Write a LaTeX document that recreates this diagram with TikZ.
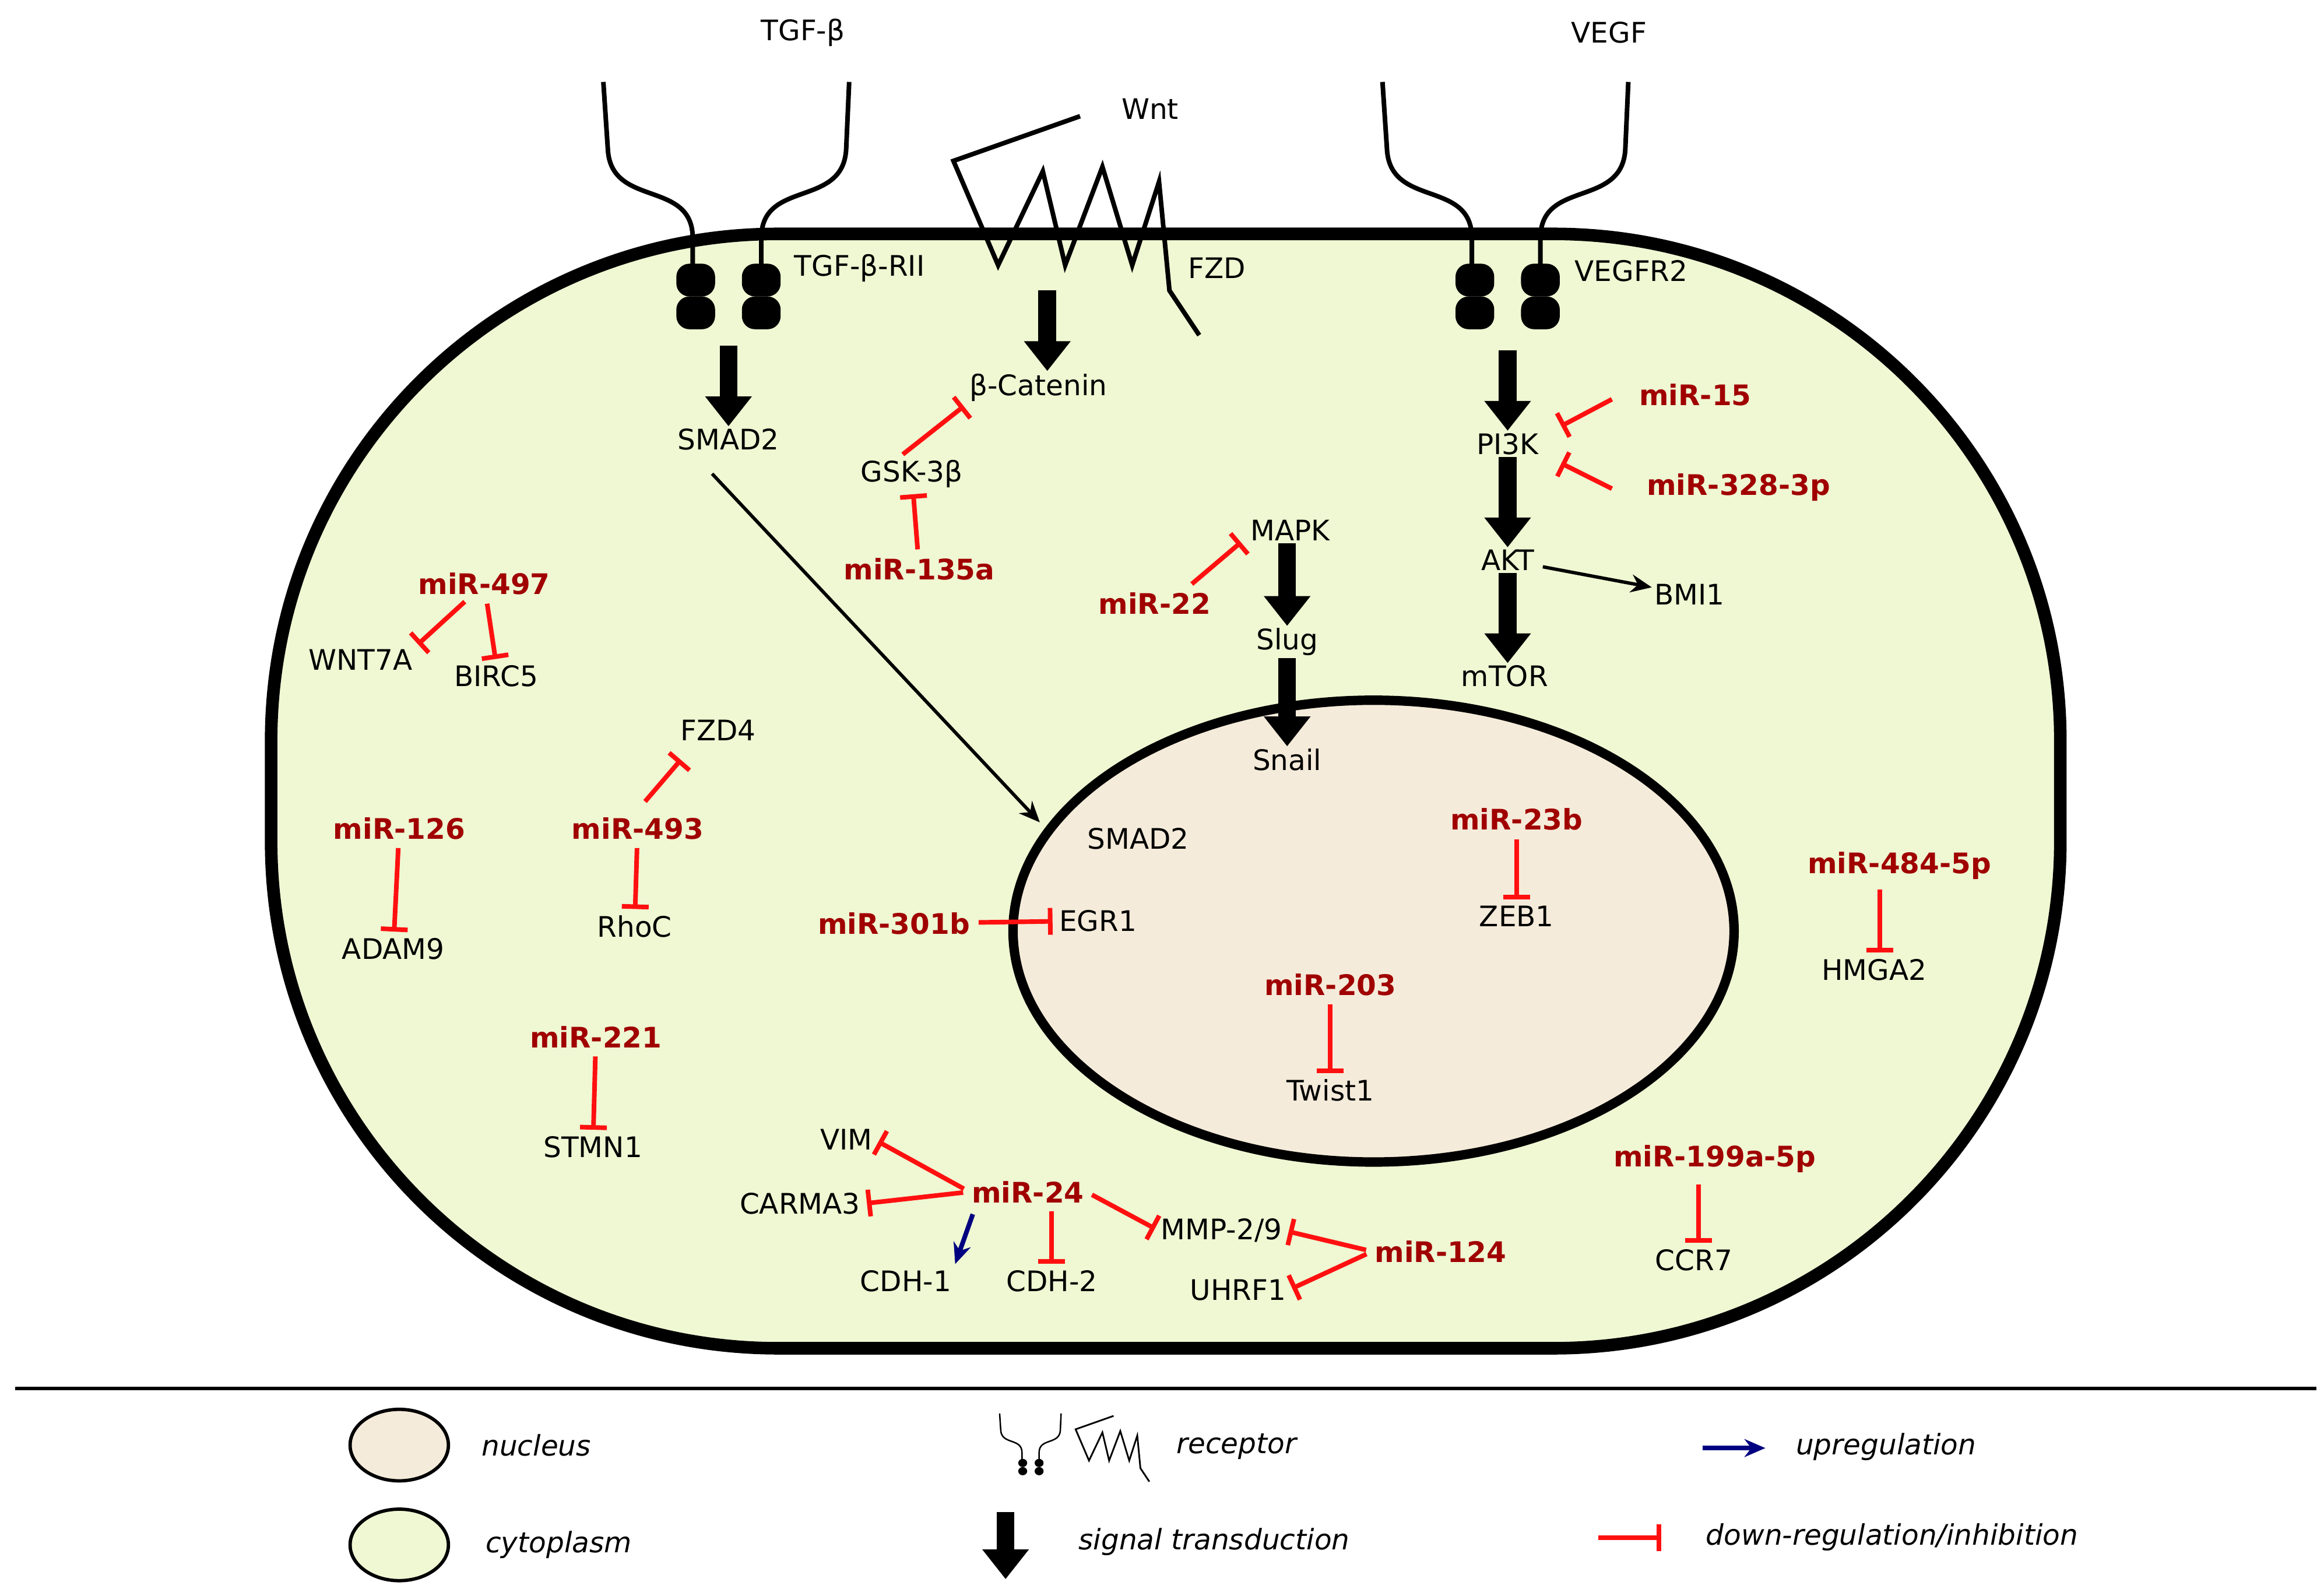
\documentclass[tikz,border=0pt]{standalone}
\usepackage{fontspec}
\setmainfont{DejaVu Sans}
\usetikzlibrary{arrows.meta}
\definecolor{cyto}{HTML}{EFF7D3}
\definecolor{nuc}{HTML}{F5EBDA}
\definecolor{mr}{HTML}{A00000}
\definecolor{inhred}{HTML}{FF1010}
\definecolor{upblue}{HTML}{000080}
\begin{document}
\begin{tikzpicture}[x=0.025cm,y=-0.025cm,
  lab/.style={font=\fontsize{13.5}{16}\selectfont,inner sep=1pt},
  mir/.style={lab,text=mr,font=\fontsize{13.5}{16}\selectfont\bfseries},
  leg/.style={lab,font=\fontsize{13.5}{16}\selectfont\itshape},
  sig/.style={line width=8.5pt,-{Triangle[width=0.75cm,length=0.5cm]}},
  inh/.style={inhred,line width=2.2pt,-{Bar[width=0.45cm]},shorten <=3pt,shorten >=2pt},
  up/.style={upblue,line width=2.2pt,-{Stealth[length=0.35cm,width=0.3cm]},shorten <=3pt,shorten >=2pt},
  thin/.style={line width=1.6pt,-{Stealth[length=0.35cm,width=0.3cm]}},
  tgfrec/.pic={
    \draw[line width=2.2pt] (-84,-133) -- (-81,-88) .. controls (-79,-48) and (-24,-68) .. (-24,-28) -- (-24,-8);
    \draw[line width=2.2pt] (81,-133) -- (79,-88) .. controls (77,-48) and (22,-68) .. (22,-28) -- (22,-8);
    \foreach \x in {-22,22}{\foreach \y in {0,22}{\fill[rounded corners=0.22cm] (\x-13,\y-11) rectangle (\x+13,\y+11);}}
  }]
\useasboundingbox (0,0) rectangle (1560,1071);
% cell
\draw[line width=6pt,fill=cyto,rounded corners=8.5cm] (182,157) rectangle (1383,905);
\draw[line width=4.5pt,fill=nuc] (922,625) ellipse (242 and 155);
% receptors
\pic at (489,188) {tgfrec};
\pic at (1012,188) {tgfrec};
\begin{scope}[shift={(720,150)}]
\draw[line width=2.2pt,line join=miter] (5,-72) -- (-80,-42) -- (-50,28) -- (-20,-35) -- (-5,28) -- (20,-38) -- (40,28) -- (58,-28) -- (65,45) -- (85,75);
\end{scope}
% labels
\node[lab] (tgf) at (539,22) {TGF-β};
\node[lab] (vegf) at (1080,22) {VEGF};
\node[lab] (wnt) at (772,73) {Wnt};
\node[lab] (tgfr) at (577,180) {TGF-β-RII};
\node[lab] (fzd) at (817,180) {FZD};
\node[lab] (vegfr) at (1095,182) {VEGFR2};
\node[lab] (smad) at (489,295) {SMAD2};
\node[lab] (bcat) at (697,260) {β-Catenin};
\node[lab] (gsk) at (612,318) {GSK-3β};
\node[mir] (m135) at (617,382) {miR-135a};
\node[lab] (mapk) at (866,356) {MAPK};
\node[mir] (m22) at (775,405) {miR-22};
\node[lab] (slug) at (864,431) {Slug};
\node[lab] (snail) at (864,510) {Snail};
\node[lab] (pi3k) at (1012,298) {PI3K};
\node[mir] (m15) at (1138,265) {miR-15};
\node[mir] (m328) at (1167,327) {miR-328-3p};
\node[lab] (akt) at (1012,376) {AKT};
\node[lab] (bmi) at (1134,399) {BMI1};
\node[lab] (mtor) at (1010,454) {mTOR};
\node[mir] (m497) at (325,392) {miR-497};
\node[lab] (wnt7a) at (242,443) {WNT7A};
\node[lab] (birc) at (333,454) {BIRC5};
\node[lab] (fzd4) at (482,490) {FZD4};
\node[mir] (m493) at (428,556) {miR-493};
\node[lab] (rhoc) at (426,622) {RhoC};
\node[mir] (m126) at (268,556) {miR-126};
\node[lab] (adam) at (264,637) {ADAM9};
\node[lab] (smadn) at (764,563) {SMAD2};
\node[mir] (m301) at (600,620) {miR-301b};
\node[lab] (egr) at (737,618) {EGR1};
\node[mir] (m23) at (1018,550) {miR-23b};
\node[lab] (zeb) at (1018,615) {ZEB1};
\node[mir] (m203) at (893,661) {miR-203};
\node[lab] (twist) at (893,732) {Twist1};
\node[mir] (m484) at (1275,581) {miR-484-5p};
\node[lab] (hmga) at (1258,651) {HMGA2};
\node[mir] (m221) at (400,696) {miR-221};
\node[lab] (stmn) at (398,770) {STMN1};
\node[lab] (vim) at (568,765) {VIM};
\node[lab] (carma) at (537,808) {CARMA3};
\node[mir] (m24) at (690,800) {miR-24};
\node[lab] (cdh1) at (608,860) {CDH-1};
\node[lab] (cdh2) at (706,860) {CDH-2};
\node[lab] (mmp) at (820,826) {MMP-2/9};
\node[mir] (m124) at (967,840) {miR-124};
\node[lab] (uhrf) at (831,866) {UHRF1};
\node[mir] (m199) at (1151,778) {miR-199a-5p};
\node[lab] (ccr) at (1137,846) {CCR7};
% signal arrows
\coordinate (r1) at (489,232);
\coordinate (r2) at (703,195);
\coordinate (r3) at (1012,235);
\draw[sig] (r1) -- (smad);
\draw[sig] (r2) -- (bcat.north -| r2);
\draw[sig] (r3) -- (pi3k);
\draw[sig] (pi3k) -- (akt);
\draw[sig] (akt) -- (akt |- mtor.north);
\draw[sig] (mapk.south -| slug) -- (slug);
\draw[sig] (slug) -- (snail);
\coordinate (s0) at (478,318);
\coordinate (s1) at (698,552);
\draw[thin] (s0) -- (s1);
\draw[thin,shorten <=3pt] (akt) -- (bmi);
% inhibitions
\draw[inh] (m135) -- (gsk);
\coordinate (g0) at (606,305);
\draw[inh,shorten <=0pt] (g0) -- (bcat.south west);
\coordinate (a22) at (800,392);
\coordinate (b22) at (833,364);
\draw[inh,shorten <=0pt,shorten >=0pt] (a22) -- (b22);
\coordinate (a15) at (1082,268);
\coordinate (b15) at (1048,286);
\draw[inh,shorten <=0pt,shorten >=0pt] (a15) -- (b15);
\coordinate (a328) at (1082,328);
\coordinate (b328) at (1048,311);
\draw[inh,shorten <=0pt,shorten >=0pt] (a328) -- (b328);
\draw[inh] (m497) -- (wnt7a.north east);
\draw[inh] (m497) -- (birc.north);
\coordinate (a493) at (433,538);
\coordinate (b493) at (457,510);
\draw[inh,shorten <=0pt,shorten >=0pt] (a493) -- (b493);
\draw[inh] (m493) -- (rhoc);
\draw[inh] (m126) -- (adam);
\draw[inh] (m301) -- (egr);
\draw[inh] (m23) -- (zeb);
\draw[inh] (m203) -- (twist);
\coordinate (a484) at (1262,597);
\draw[inh,shorten <=0pt] (a484) -- (a484 |- hmga.north);
\draw[inh] (m221) -- (stmn);
\draw[inh] (m24.west) -- (vim.east);
\draw[inh] (m24.west) -- (carma.east);
\draw[inh] (m24.east) -- (mmp.west);
\draw[inh] (m24.south -| cdh2) -- (cdh2);
\coordinate (a24) at (653,815);
\draw[up,shorten <=0pt] (a24) -- (cdh1.north east);
\draw[inh] (m124.west) -- (mmp.east);
\draw[inh] (m124.west) -- (uhrf.east);
\coordinate (a199) at (1140,795);
\draw[inh,shorten <=0pt] (a199) -- (a199 |- ccr.north);
% legend
\draw[line width=1.6pt] (10,932) -- (1555,932);
\draw[line width=1.6pt,fill=nuc] (268,970) ellipse (33 and 24);
\draw[line width=1.6pt,fill=cyto] (268,1037) ellipse (33 and 24);
\node[leg] (lnuc) at (360,970) {nucleus};
\node[leg] (lcyt) at (375,1037) {cytoplasm};
\begin{scope}[shift={(692,982)},scale=0.25]
\draw[line width=0.7pt] (-84,-133) -- (-81,-88) .. controls (-79,-48) and (-24,-68) .. (-24,-28) -- (-24,-8);
\draw[line width=0.7pt] (81,-133) -- (79,-88) .. controls (77,-48) and (22,-68) .. (22,-28) -- (22,-8);
\foreach \x in {-22,22}{\foreach \y in {0,22}{\fill (\x,\y) ellipse (12 and 11);}}
\end{scope}
\begin{scope}[shift={(746,972)},scale=0.3]
\draw[line width=0.8pt,line join=miter] (5,-72) -- (-80,-42) -- (-50,28) -- (-20,-35) -- (-5,28) -- (20,-38) -- (40,28) -- (58,-28) -- (65,45) -- (85,75);
\end{scope}
\node[leg] (lrec) at (830,971) {receptor};
\coordinate (ls0) at (675,1015);
\coordinate (ls1) at (675,1060);
\draw[sig] (ls0) -- (ls1);
\node[leg] (lsig) at (815,1035) {signal transduction};
\coordinate (lu0) at (1143,972);
\coordinate (lu1) at (1185,972);
\draw[up,shorten <=0pt,shorten >=0pt] (lu0) -- (lu1);
\node[leg] (lup) at (1266,971) {upregulation};
\coordinate (ld0) at (1073,1032);
\coordinate (ld1) at (1115,1032);
\draw[inh,shorten <=0pt,shorten >=0pt] (ld0) -- (ld1);
\node[leg] (ldown) at (1270,1032) {down-regulation/inhibition};
\end{tikzpicture}
\end{document}
